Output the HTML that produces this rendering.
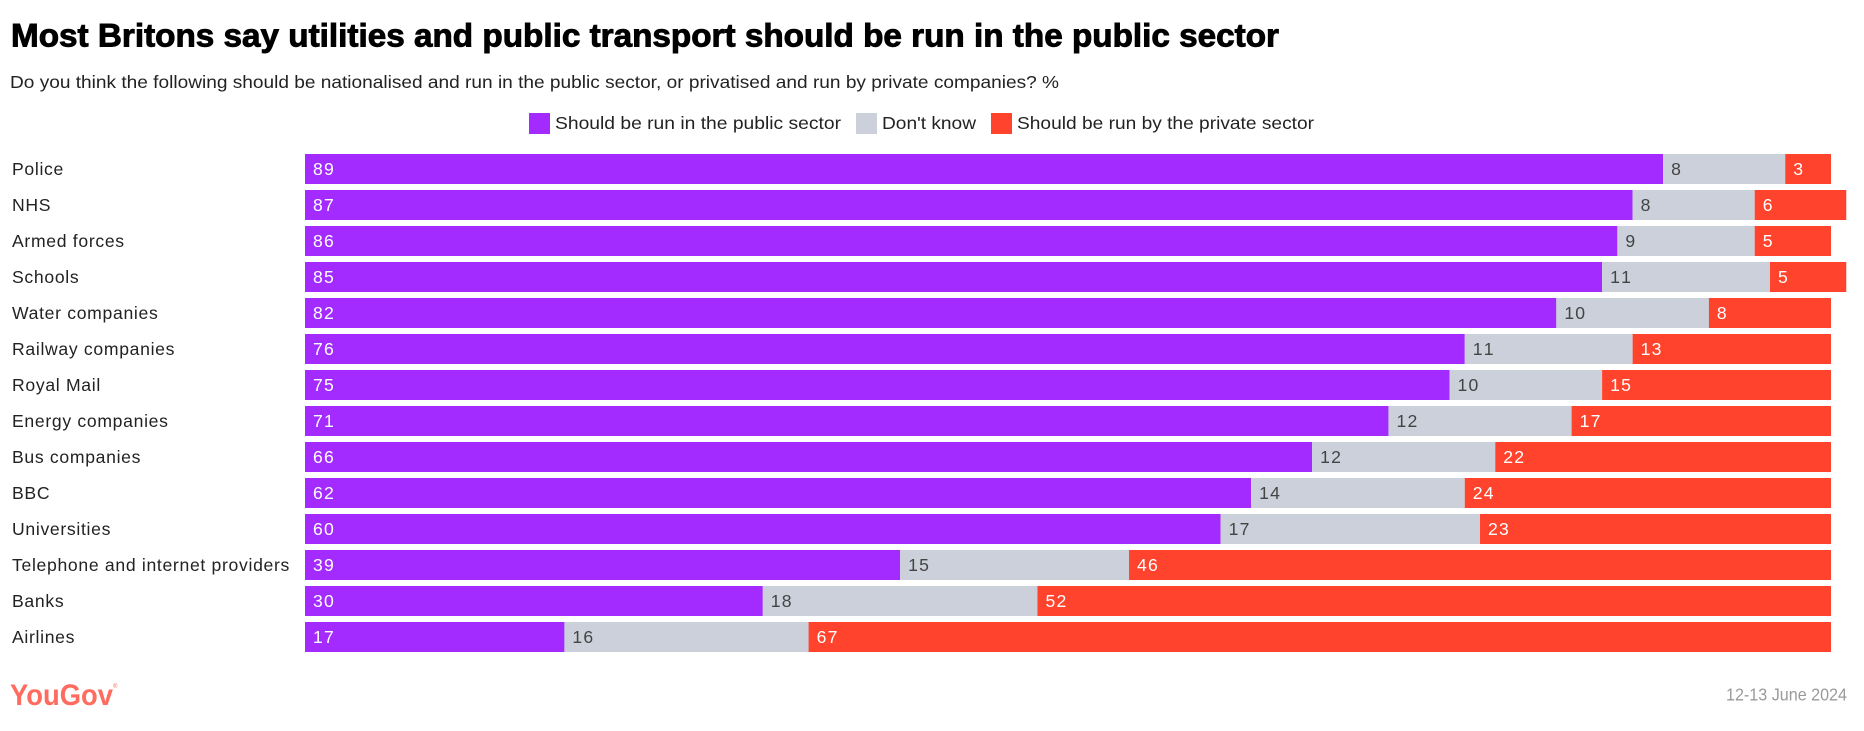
<!DOCTYPE html>
<html lang="en">
<head>
<meta charset="utf-8">
<title>Most Britons say utilities and public transport should be run in the public sector</title>
<style>
html,body{margin:0;padding:0;background:#fff;width:1864px;height:731px;overflow:hidden}
svg{display:block}
text{font-family:"Liberation Sans",Arial,sans-serif}
</style>
</head>
<body>
<svg id="chart" xmlns="http://www.w3.org/2000/svg" width="1864" height="731" viewBox="0 0 1864 731">
  <text x="11" y="46.5" font-size="32" font-weight="700" fill="#000" stroke="#000" stroke-width="0.9" textLength="1268" lengthAdjust="spacingAndGlyphs">Most Britons say utilities and public transport should be run in the public sector</text>
  <text x="10" y="88" font-size="17.6" fill="#222" textLength="1049" lengthAdjust="spacingAndGlyphs">Do you think the following should be nationalised and run in the public sector, or privatised and run by private companies? %</text>

  <g>
    <rect x="529" y="113" width="21" height="21" fill="#a32bff"/>
    <text x="555" y="129" font-size="17.6" fill="#222" textLength="286" lengthAdjust="spacingAndGlyphs">Should be run in the public sector</text>
    <rect x="856" y="113" width="21" height="21" fill="#cbd0db"/>
    <text x="882" y="129" font-size="17.6" fill="#222" textLength="94" lengthAdjust="spacingAndGlyphs">Don't know</text>
    <rect x="991" y="113" width="21" height="21" fill="#ff432c"/>
    <text x="1017" y="129" font-size="17.6" fill="#222" textLength="297" lengthAdjust="spacingAndGlyphs">Should be run by the private sector</text>
  </g>

  <g id="plot"></g>

  <g>
    <text x="10" y="705" font-size="30" font-weight="700" fill="#ff6b5e" textLength="103" lengthAdjust="spacingAndGlyphs">YouGov</text>
    <text x="113" y="688" font-size="6" fill="#ff6b5e">®</text>
  </g>
  <text x="1847" y="700.5" font-size="17.6" fill="#9a9a9a" text-anchor="end" textLength="121" lengthAdjust="spacingAndGlyphs">12-13 June 2024</text>
</svg>
<script>
const categories = ["Police","NHS","Armed forces","Schools","Water companies","Railway companies","Royal Mail","Energy companies","Bus companies","BBC","Universities","Telephone and internet providers","Banks","Airlines"];
const publicSector = [89,87,86,85,82,76,75,71,66,62,60,39,30,17];
const dontKnow = [8,8,9,11,10,11,10,12,12,14,17,15,18,16];
const privateSector = [3,6,5,5,8,13,15,17,22,24,23,46,52,67];

const SVG_NS = "http://www.w3.org/2000/svg";
const plot = document.getElementById("plot");
const plotLeft = 305, plotWidth = 1526, domainMax = 100;
const rowTop = 154, rowStep = 36, barHeight = 30;
const xScale = function (v) { return plotLeft + v / domainMax * plotWidth; };
const yScale = function (i) { return rowTop + i * rowStep; };

function slug(s) { return s.toLowerCase().replace(/[^a-z0-9]+/g, "-"); }

function addSegment(group, rowName, seriesName, start, value, i, fill, textFill) {
  const rect = document.createElementNS(SVG_NS, "rect");
  
  
  rect.setAttribute("x", xScale(start));
  rect.setAttribute("y", yScale(i));
  rect.setAttribute("width", xScale(start + value) - xScale(start));
  rect.setAttribute("height", barHeight);
  rect.setAttribute("fill", fill);
  group.appendChild(rect);

  const label = document.createElementNS(SVG_NS, "text");
  
  
  label.setAttribute("x", xScale(start) + 8);
  label.setAttribute("y", yScale(i) + 21);
  label.setAttribute("font-size", "17.6");
  label.setAttribute("letter-spacing", "1.2");
  label.setAttribute("style", "font-kerning:none");
  label.setAttribute("fill", textFill);
  label.textContent = value;
  group.appendChild(label);
}

categories.forEach(function (cat, i) {
  const rowName = slug(cat);
  const row = document.createElementNS(SVG_NS, "g");
  
  

  const catLabel = document.createElementNS(SVG_NS, "text");
  
  
  catLabel.setAttribute("x", 12);
  catLabel.setAttribute("y", yScale(i) + 21);
  catLabel.setAttribute("font-size", "17.6");
  catLabel.setAttribute("letter-spacing", "0.68");
  catLabel.setAttribute("fill", "#222");
  catLabel.textContent = cat;
  row.appendChild(catLabel);

  addSegment(row, rowName, "public-sector", 0, publicSector[i], i, "#a32bff", "#fff");
  addSegment(row, rowName, "dont-know", publicSector[i], dontKnow[i], i, "#cbd0db", "#444");
  addSegment(row, rowName, "private-sector", publicSector[i] + dontKnow[i], privateSector[i], i, "#ff432c", "#fff");
  plot.appendChild(row);
});
</script>
</body>
</html>
